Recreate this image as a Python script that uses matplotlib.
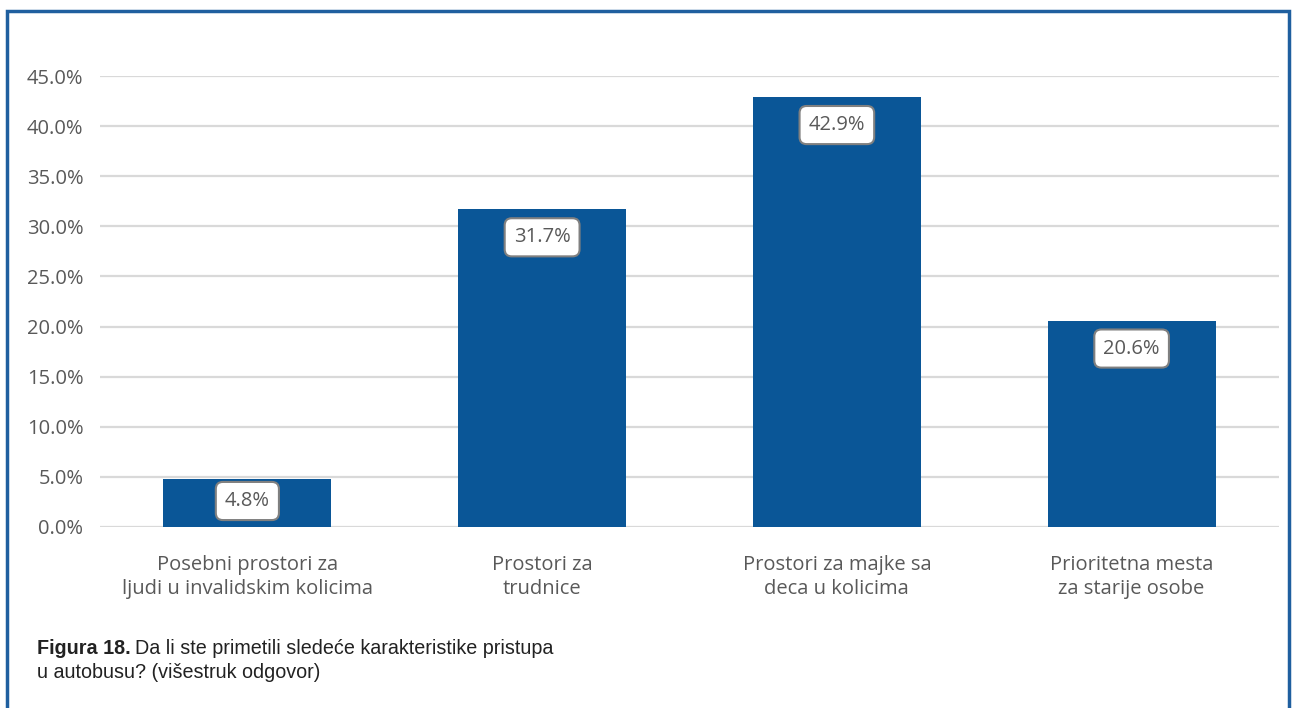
import matplotlib.pyplot as plt
from matplotlib.patches import Rectangle
from matplotlib.ticker import FuncFormatter

categories = [
    "Posebni prostori za\nljudi u invalidskim kolicima",
    "Prostori za\ntrudnice",
    "Prostori za majke sa\ndeca u kolicima",
    "Prioritetna mesta\nza starije osobe",
]
values = [4.8, 31.7, 42.9, 20.6]
y_ticks = [0, 5, 10, 15, 20, 25, 30, 35, 40, 45]

bar_color = "#0A5697"
text_color = "#595959"
frame_color = "#1F5F9F"

plt.rcParams['font.family'] = ['Open Sans', 'DejaVu Sans']

fig = plt.figure(figsize=(12.92, 7.08), dpi=100)
W, H = 1292, 708
ax = fig.add_axes([100 / W, (H - 527) / H, 1179 / W, (527 - 76) / H])

x = range(len(categories))
ax.bar(x, values, width=0.57, color=bar_color, zorder=2)

ax.set_xlim(-0.5, len(categories) - 0.5)
ax.set_ylim(0, 45)
ax.set_yticks(y_ticks)
ax.yaxis.set_major_formatter(FuncFormatter(lambda v, p: f"{v:.1f}%"))
ax.set_xticks(list(x))
ax.set_xticklabels(categories, linespacing=1.3)
ax.tick_params(axis='both', length=0, labelsize=14.5, labelcolor=text_color)
ax.tick_params(axis='y', pad=12)
ax.tick_params(axis='x', pad=20)
ax.grid(axis='y', color='#D9D9D9', linewidth=1.6, zorder=0)
for s in ax.spines.values():
    s.set_visible(False)

# value labels in rounded boxes just under the top of each bar
px_per_unit = 451 / 45
for i, v in enumerate(values):
    off_px = min(28, v * px_per_unit - 26)
    ax.annotate(f"{v}%", xy=(i, v), xytext=(0, -off_px * 0.72), textcoords='offset points',
                ha='center', va='center', fontsize=14.5, color=text_color, zorder=3,
                bbox=dict(boxstyle='round,pad=0.45,rounding_size=0.35', fc='white',
                          ec='#808080', lw=1.5))

# blue frame around the figure (open at the bottom)
fig.add_artist(Rectangle((7 / W, -0.05), (1289 - 7) / W, (H - 11) / H + 0.05,
                         transform=fig.transFigure, fill=False, ec=frame_color, lw=2.5))

# caption: bold figure number followed by the question text
cap_kw = dict(fontsize=14.2, family='Liberation Sans', color='#222222', va='center')
bold = fig.text(37 / W, (H - 648) / H, "Figura 18.", fontweight='bold', **cap_kw)
fig.canvas.draw()
bb = bold.get_window_extent()
fig.text((bb.x1 + 4) / W, (H - 648) / H, "Da li ste primetili sledeće karakteristike pristupa",
         **cap_kw)
fig.text(37 / W, (H - 672) / H, "u autobusu? (višestruk odgovor)", **cap_kw)

fig.savefig("out.png", dpi=100)
